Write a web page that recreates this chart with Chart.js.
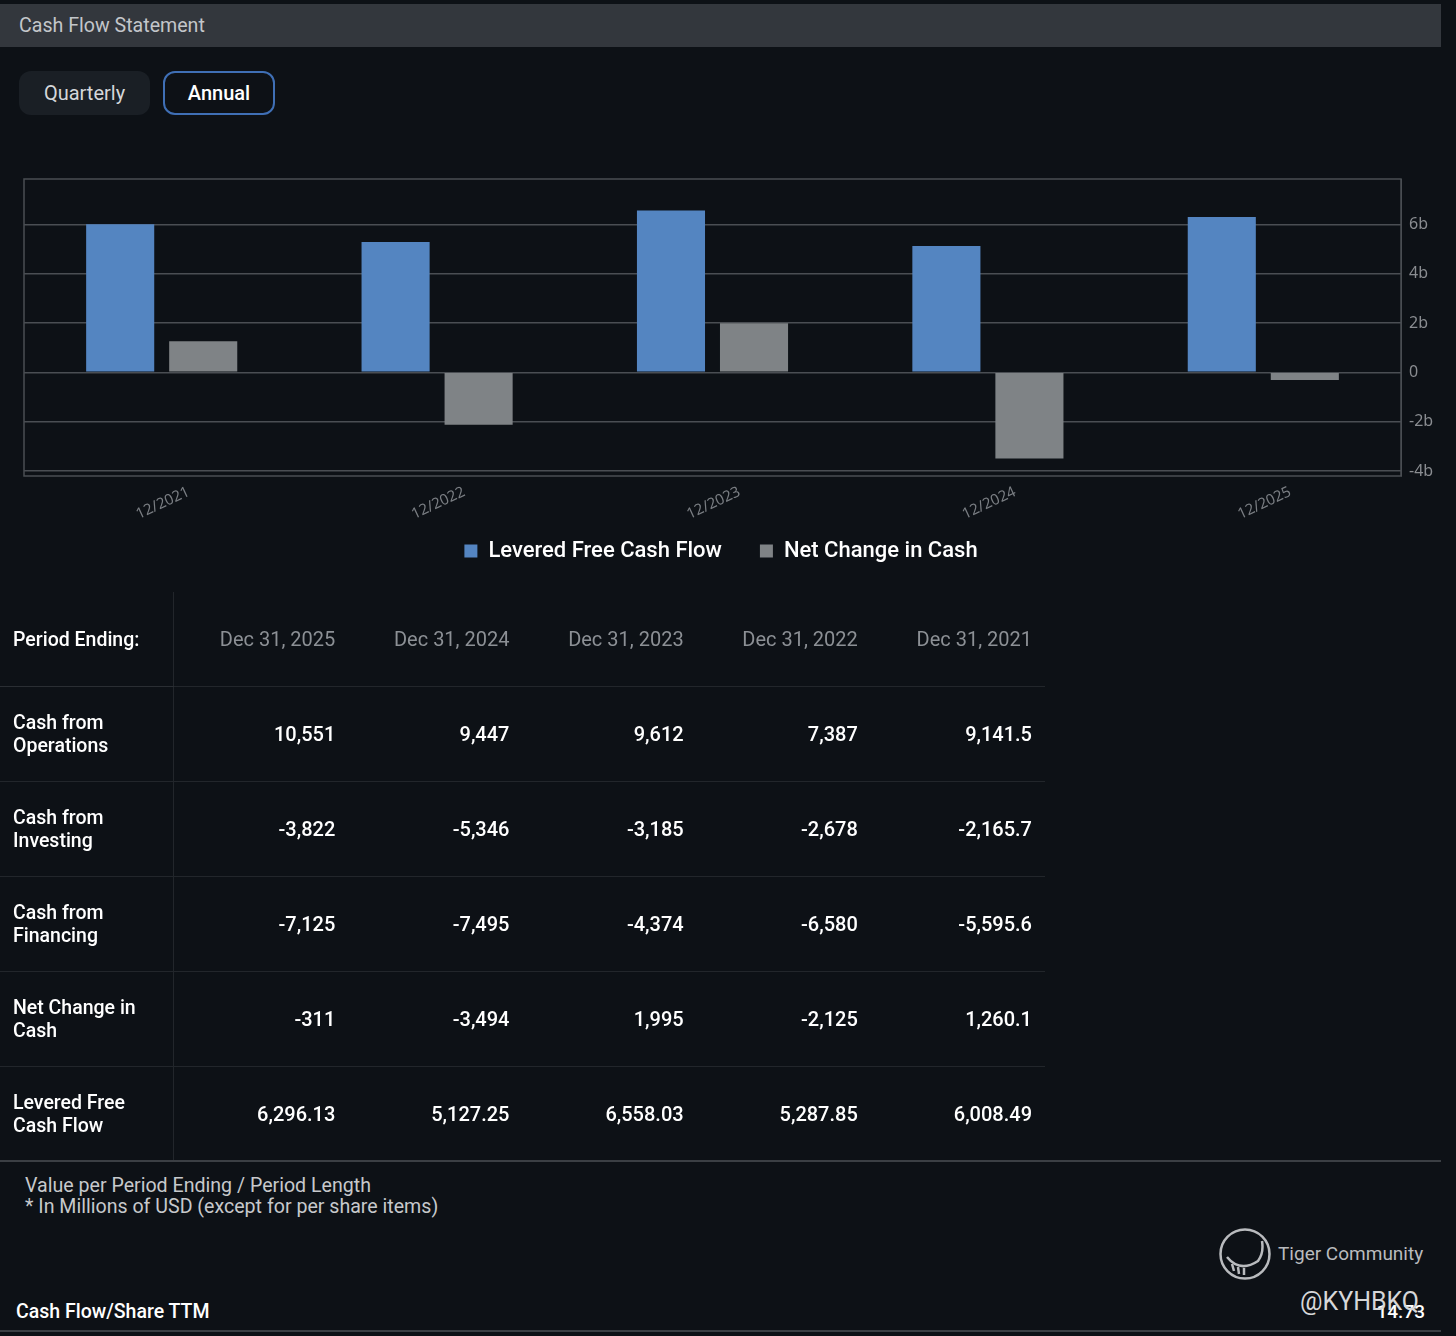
<!DOCTYPE html>
<html>
<head>
<meta charset="utf-8">
<script src="https://cdn.jsdelivr.net/npm/chart.js@4/dist/chart.umd.min.js"></script>
<style>
  html, body { margin: 0; padding: 0; }
  body { width: 1456px; height: 1336px; background: #0d1116; font-family: Roboto, "Noto Sans", sans-serif; position: relative; overflow: hidden; }
  .topbar { position: absolute; left: 0; top: 4px; width: 1441px; height: 43px; background: #33373d; }
  .topbar span { position: absolute; left: 19px; top: 10px; font-size: 19.6px; color: #c3c6ca; }
  .btn { position: absolute; top: 71px; height: 44px; box-sizing: border-box; border-radius: 12px; font-size: 20px; line-height: 44px; text-align: center; }
  .btn.q { left: 19px; width: 131px; background: #1a1f25; color: #d5d7da; }
  .btn.a { left: 163px; width: 112px; border: 2px solid #3f6fb5; color: #fff; font-weight: 500; line-height: 40px; background: #0d1116; }
  .chart-wrap { position: absolute; left: 0; top: 160px; width: 1456px; height: 442px; }
  table { position: absolute; left: 0; top: 592px; border-collapse: collapse; width: 1045px; }
  td { height: 94px; border-bottom: 1px solid #22262b; padding: 0 13px 0 0; text-align: right; font-size: 20px; color: #fff; font-weight: 500; width: 161px; box-sizing: content-box; }
  td.lbl { text-align: left; padding: 0 0 0 13px; width: 160px; border-right: 1px solid #22262b; font-size: 19.5px; line-height: 23px; }
  tr.head td { color: #8c9095; font-weight: 400; }
  tr.head td.lbl { color: #fff; font-weight: 500; border-bottom-color: #2a2e33; }
  tr:last-child td { border-bottom: none; }
  .sep { position: absolute; left: 0; top: 1160px; width: 1441px; height: 2px; background: #3b3f44; }
  .note { position: absolute; left: 25px; top: 1175px; font-size: 19.6px; line-height: 21px; color: #c7c9cc; }
  .logo { position: absolute; left: 1218px; top: 1227px; }
  .logo-txt { position: absolute; left: 1278px; top: 1242px; font-size: 19px; color: #b9bbbe; }
  .ttm { position: absolute; left: 16px; top: 1300px; font-size: 19.5px; font-weight: 500; color: #fff; }
  .ttm-val { position: absolute; right: 31px; top: 1300px; font-size: 19px; font-weight: 500; color: #fff; }
  .wm { position: absolute; left: 1300px; top: 1287px; font-size: 25px; color: #d6d7d9; }
  .bottom-line { position: absolute; left: 0; top: 1330px; width: 1441px; height: 2px; background: #3b3f44; }
</style>
</head>
<body>
<div class="topbar"><span>Cash Flow Statement</span></div>
<div class="btn q">Quarterly</div>
<div class="btn a">Annual</div>

<div class="chart-wrap"><canvas id="cfChart" width="1456" height="442"></canvas></div>

<table id="cfTable"></table>
<div class="sep"></div>
<div class="note">Value per Period Ending / Period Length<br>* In Millions of USD (except for per share items)</div>

<svg class="logo" width="54" height="54" viewBox="0 0 54 54">
  <circle cx="27" cy="27" r="24.5" fill="none" stroke="#b9bbbe" stroke-width="2.5"/>
  <path d="M9 30 Q22 46 40 34 Q46 26 44 14" fill="none" stroke="#b9bbbe" stroke-width="2.5"/>
  <path d="M14 37 L16 44 M20 40 L21 47 M26 41 L26 48" stroke="#b9bbbe" stroke-width="2.5"/>
</svg>
<div class="logo-txt">Tiger Community</div>
<div class="ttm">Cash Flow/Share TTM</div>
<div class="ttm-val">14.73</div>
<div class="wm">@KYHBKQ</div>
<div class="bottom-line"></div>

<script>
// ── CHART DATA (millions of USD) ──
const categories = ['12/2021', '12/2022', '12/2023', '12/2024', '12/2025'];
const leveredFcf = [6008.49, 5287.85, 6558.03, 5127.25, 6296.13];
const netChange = [1260.1, -2125, 1995, -3494, -311];
const yTicks = [-4000, -2000, 0, 2000, 4000, 6000];

// ── TABLE DATA ──
const periods = ['Dec 31, 2025', 'Dec 31, 2024', 'Dec 31, 2023', 'Dec 31, 2022', 'Dec 31, 2021'];
const rowLabels = ['Cash from<br>Operations', 'Cash from<br>Investing', 'Cash from<br>Financing', 'Net Change in<br>Cash', 'Levered Free<br>Cash Flow'];
const cashOps = ['10,551', '9,447', '9,612', '7,387', '9,141.5'];
const cashInv = ['-3,822', '-5,346', '-3,185', '-2,678', '-2,165.7'];
const cashFin = ['-7,125', '-7,495', '-4,374', '-6,580', '-5,595.6'];
const netChangeTxt = ['-311', '-3,494', '1,995', '-2,125', '1,260.1'];
const lfcfTxt = ['6,296.13', '5,127.25', '6,558.03', '5,287.85', '6,008.49'];

// ── BUILD TABLE ──
const table = document.getElementById('cfTable');
let html = '<tr class="head"><td class="lbl">Period Ending:</td>' + periods.map(p => `<td>${p}</td>`).join('') + '</tr>';
[cashOps, cashInv, cashFin, netChangeTxt, lfcfTxt].forEach((row, i) => {
  html += `<tr><td class="lbl">${rowLabels[i]}</td>` + row.map(v => `<td>${v}</td>`).join('') + '</tr>';
});
table.innerHTML = html;

// ── PLOT FRAME ──
const frame = {
  id: 'frame',
  afterDraw(chart) {
    const { ctx, chartArea: a } = chart;
    ctx.save();
    ctx.strokeStyle = '#4a4e53';
    ctx.lineWidth = 1.5;
    ctx.strokeRect(a.left, a.top, a.right - a.left, a.bottom - a.top);
    ctx.restore();
  }
};

// legend sits closer to the axis labels than its padding allows
const legendNudge = {
  id: 'legendNudge',
  afterLayout(chart) {
    const lg = chart.legend;
    if (!lg) return;
    lg.top -= 30; lg.bottom -= 30;
    lg.left -= 19; lg.right -= 19;
  }
};

// ── CHART ──
new Chart(document.getElementById('cfChart'), {
  type: 'bar',
  data: {
    labels: categories,
    datasets: [
      { label: 'Levered Free Cash Flow', data: leveredFcf, backgroundColor: '#5485c1', borderWidth: 0 },
      { label: 'Net Change in Cash', data: netChange, backgroundColor: '#7f8386', borderWidth: 0 },
    ],
  },
  options: {
    responsive: false,
    animation: false,
    devicePixelRatio: 1,
    datasets: { bar: { categoryPercentage: 0.603, barPercentage: 0.82 } },
    layout: { padding: { left: 24, top: 19, right: 0, bottom: 0 } },
    plugins: {
      legend: {
        position: 'bottom',
        labels: {
          color: '#ffffff',
          boxWidth: 13,
          boxHeight: 13,
          padding: 38,
          font: { family: 'Roboto', size: 22, weight: '500' },
        },
      },
      tooltip: { enabled: false },
    },
    scales: {
      x: {
        grid: { display: false },
        border: { display: false },
        afterFit: s => { s.height = 56; },
        ticks: {
          color: '#7a7e83',
          font: { family: 'Noto Sans', size: 15 },
          minRotation: 25,
          maxRotation: 25,
          labelOffset: 27,
          padding: -1,
        },
      },
      y: {
        position: 'right',
        min: -4204,
        max: 7840,
        afterBuildTicks: s => { s.ticks = yTicks.map(v => ({ value: v })); },
        afterFit: s => { s.width = 55; },
        grid: { color: '#4a4e53', lineWidth: 1.5, drawTicks: false },
        border: { color: '#4a4e53' },
        ticks: {
          color: '#8a8d91',
          font: { family: 'Noto Sans', size: 16 },
          padding: 8,
          callback: v => v === 0 ? '0' : (v / 1000) + 'b',
        },
      },
    },
  },
  plugins: [frame, legendNudge],
});
</script>
</body>
</html>
